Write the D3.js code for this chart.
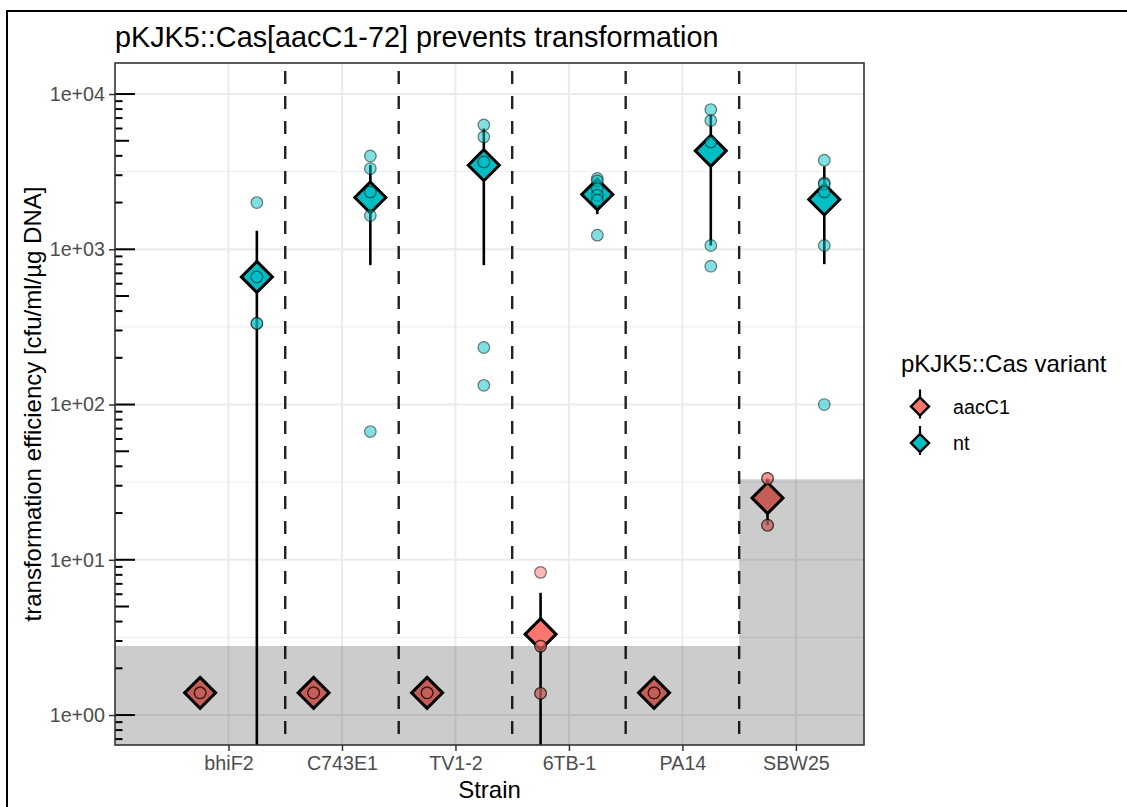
<!DOCTYPE html>
<html>
<head>
<meta charset="utf-8">
<script src="https://cdn.jsdelivr.net/npm/d3@7"></script>
<style>
  body { margin: 0; background: #fff; }
  text { font-family: "Liberation Sans", Arial, sans-serif; }
</style>
</head>
<body>
<svg id="chart"></svg>
<script>
// strains on the x axis
const strains = ["bhiF2", "C743E1", "TV1-2", "6TB-1", "PA14", "SBW25"];
const variants = ["aacC1", "nt"];

// raw replicate values (cfu/ml/µg DNA), one list per strain
const aacC1Points = [
  [1.39, 1.39, 1.39],
  [1.39, 1.39, 1.39],
  [1.39, 1.39, 1.39],
  [8.3, 2.78, 2.78, 1.38, 1.38],
  [1.39, 1.39, 1.39],
  [33.4, 33.4, 16.7, 16.7]
];
const ntPoints = [
  [2000, 664, 333, 333],
  [3990, 3313, 2342, 1651, 67],
  [6325, 5300, 3655, 233, 133],
  [2857, 2760, 2460, 2230, 2070, 1233],
  [7945, 6745, 4915, 1058, 778],
  [3750, 2678, 2625, 2343, 1058, 100]
];

// mean and error bar ends (0 = below the axis)
const aacC1Mean = [1.39, 1.39, 1.39, 3.32, 1.39, 25];
const aacC1Low = [1.39, 1.39, 1.39, 0, 1.39, 16.7];
const aacC1High = [1.39, 1.39, 1.39, 6.13, 1.39, 33.4];
const ntMean = [664, 2157, 3480, 2255, 4305, 2094];
const ntLow = [0, 790, 790, 1683, 1058, 802];
const ntHigh = [1315, 3500, 6000, 2830, 7300, 3420];

// detection limit per strain (grey shading)
const detectionLimit = [2.78, 2.78, 2.78, 2.78, 2.78, 33];

const yTicks = [1, 10, 100, 1000, 10000];

const W = 1127, H = 807;
const svg = d3.select("#chart").attr("width", W).attr("height", H);

const panel = { left: 115, right: 864, top: 63, bottom: 745 };

const x = d3.scaleLinear().domain([0, 6.6]).range([panel.left, panel.right]);
const y = d3.scaleLog().domain([Math.pow(10, -0.193), Math.pow(10, 4.2)]).range([panel.bottom, panel.top]);
const color = d3.scaleOrdinal().domain(variants).range(["#F8766D", "#00BFC4"]);
const dodge = { aacC1: -0.25, nt: 0.25 };

const yv = v => v > 0 ? Math.max(panel.top, Math.min(panel.bottom, y(Math.max(v, y.domain()[0])))) : panel.bottom;

// outer frame
svg.append("rect")
  .attr("x", 7).attr("y", 11)
  .attr("width", W).attr("height", H)
  .attr("fill", "none").attr("stroke", "#000").attr("stroke-width", 2);

const g = svg.append("g");

// grid
const minor = [];
for (let k = -1; k <= 4; k++) minor.push(Math.pow(10, k + 0.5));
g.selectAll(".minor").data(minor.filter(v => v > y.domain()[0] && v < y.domain()[1]))
  .enter().append("line")
  .attr("x1", panel.left).attr("x2", panel.right)
  .attr("y1", d => y(d)).attr("y2", d => y(d))
  .attr("stroke", "#EBEBEB").attr("stroke-width", 1);
g.selectAll(".hmajor").data(yTicks).enter().append("line")
  .attr("x1", panel.left).attr("x2", panel.right)
  .attr("y1", d => y(d)).attr("y2", d => y(d))
  .attr("stroke", "#EBEBEB").attr("stroke-width", 2);
g.selectAll(".vmajor").data(strains).enter().append("line")
  .attr("x1", (d, i) => x(i + 1)).attr("x2", (d, i) => x(i + 1))
  .attr("y1", panel.top).attr("y2", panel.bottom)
  .attr("stroke", "#EBEBEB").attr("stroke-width", 2);

// dashed separators between strains
g.selectAll(".sep").data(strains.slice(1)).enter().append("line")
  .attr("x1", (d, i) => x(i + 1.5)).attr("x2", (d, i) => x(i + 1.5))
  .attr("y1", panel.top + 8).attr("y2", panel.bottom)
  .attr("stroke", "#222").attr("stroke-width", 2.4)
  .attr("stroke-dasharray", "13,12");

// build long table
const rows = [];
strains.forEach((s, i) => {
  rows.push({ strain: s, i, variant: "aacC1", pts: aacC1Points[i], mean: aacC1Mean[i], lo: aacC1Low[i], hi: aacC1High[i] });
  rows.push({ strain: s, i, variant: "nt", pts: ntPoints[i], mean: ntMean[i], lo: ntLow[i], hi: ntHigh[i] });
});
const xpos = d => x(d.i + 1 + dodge[d.variant]);

// error bars
g.selectAll(".err").data(rows.filter(d => d.hi > d.lo)).enter().append("line")
  .attr("x1", xpos).attr("x2", xpos)
  .attr("y1", d => yv(d.hi)).attr("y2", d => yv(d.lo))
  .attr("stroke", "#000").attr("stroke-width", 2.6);

// mean diamonds
const diamond = r => `M0,${-r}L${r},0L0,${r}L${-r},0Z`;
g.selectAll(".mean").data(rows).enter().append("path")
  .attr("transform", d => `translate(${xpos(d)},${y(d.mean)})`)
  .attr("d", diamond(15.5))
  .attr("fill", d => color(d.variant))
  .attr("stroke", "#000").attr("stroke-width", 3)
  .attr("stroke-linejoin", "miter");

// raw points
const pts = [];
rows.forEach(d => d.pts.forEach(v => pts.push({ ...d, v })));
g.selectAll(".pt").data(pts).enter().append("circle")
  .attr("cx", xpos).attr("cy", d => y(d.v)).attr("r", 5.8)
  .attr("fill", d => color(d.variant)).attr("fill-opacity", 0.5)
  .attr("stroke", "#000").attr("stroke-opacity", 0.5).attr("stroke-width", 1.2);

// detection limit shading
const steps = detectionLimit.map((v, i) => [i === 0 ? x.domain()[0] : i + 0.5, v]);
steps.push([x.domain()[1], detectionLimit[detectionLimit.length - 1]]);
g.append("path")
  .datum(steps)
  .attr("d", d3.area().curve(d3.curveStepAfter)
    .x(d => x(d[0])).y0(panel.bottom).y1(d => y(d[1])))
  .attr("fill", "#000").attr("fill-opacity", 0.2);

// log ticks on the left
const logTicks = [];
for (let k = -1; k <= 4; k++) for (let m = 1; m <= 9; m++) {
  const v = m * Math.pow(10, k);
  if (v >= y.domain()[0] && v <= y.domain()[1]) logTicks.push({ v, m });
}
g.selectAll(".lt").data(logTicks).enter().append("line")
  .attr("x1", panel.left).attr("x2", d => panel.left + (d.m === 1 ? 20 : d.m === 5 ? 14 : 7.5))
  .attr("y1", d => y(d.v)).attr("y2", d => y(d.v))
  .attr("stroke", "#000").attr("stroke-width", 2);

// panel border
g.append("rect")
  .attr("x", panel.left).attr("y", panel.top)
  .attr("width", panel.right - panel.left).attr("height", panel.bottom - panel.top)
  .attr("fill", "none").attr("stroke", "#333").attr("stroke-width", 1.6);

// axes
const yAxis = svg.append("g")
  .attr("transform", `translate(${panel.left},0)`)
  .call(d3.axisLeft(y).tickValues(yTicks).tickSize(6).tickPadding(4)
    .tickFormat(d => "1e+0" + Math.round(Math.log10(d))));
const xAxis = svg.append("g")
  .attr("transform", `translate(0,${panel.bottom})`)
  .call(d3.axisBottom(x).tickValues(d3.range(1, strains.length + 1)).tickSize(6).tickPadding(5)
    .tickFormat(d => strains[d - 1]));
[yAxis, xAxis].forEach(a => {
  a.select(".domain").remove();
  a.selectAll(".tick line").attr("stroke", "#333").attr("stroke-width", 1.5);
  a.selectAll(".tick text")
    .attr("fill", "#4D4D4D")
    .style("font-size", "19.7px")
    .style("font-family", "Liberation Sans, Arial, sans-serif");
});

// titles
svg.append("text")
  .attr("x", panel.left).attr("y", 46.5)
  .style("font-size", "28.8px")
  .text("pKJK5::Cas[aacC1-72] prevents transformation");

svg.append("text")
  .attr("x", (panel.left + panel.right) / 2).attr("y", 798)
  .attr("text-anchor", "middle")
  .style("font-size", "24px")
  .text("Strain");

svg.append("text")
  .attr("transform", `translate(41,${(panel.top + panel.bottom) / 2}) rotate(-90)`)
  .attr("text-anchor", "middle")
  .style("font-size", "24px")
  .text("transformation efficiency [cfu/ml/µg DNA]");

// legend
const legend = svg.append("g");
legend.append("text")
  .attr("x", 901).attr("y", 371.5)
  .style("font-size", "24px")
  .text("pKJK5::Cas variant");
const keys = legend.selectAll(".key").data(variants).enter().append("g")
  .attr("transform", (d, i) => `translate(920,${406.5 + i * 36.5})`);
keys.append("line")
  .attr("y1", -17).attr("y2", 12)
  .attr("stroke", "#000").attr("stroke-width", 2.2);
keys.append("path")
  .attr("d", diamond(9))
  .attr("fill", d => color(d))
  .attr("stroke", "#000").attr("stroke-width", 2.4);
keys.append("text")
  .attr("x", 33).attr("y", 7)
  .style("font-size", "19.7px")
  .text(d => d);
</script>
</body>
</html>
